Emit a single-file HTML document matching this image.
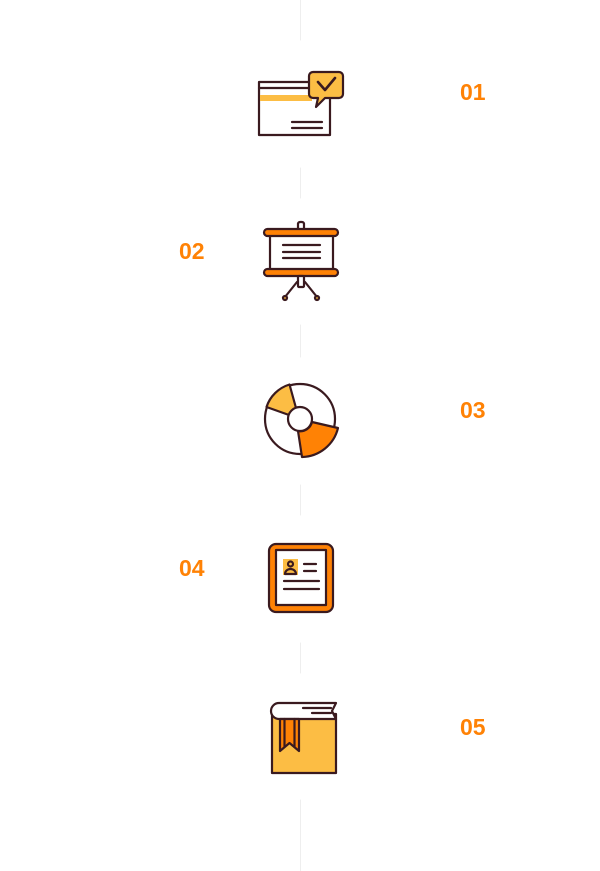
<!DOCTYPE html>
<html><head><style>
body{margin:0;background:#fff;width:600px;height:871px;overflow:hidden;position:relative;font-family:"Liberation Sans",sans-serif}
.n{position:absolute;color:#ff8205;font-weight:bold;font-size:23px;line-height:22px}
</style></head><body>
<div class="n" style="left:460px;top:81px">01</div>
<div class="n" style="left:179px;top:240px">02</div>
<div class="n" style="left:460px;top:399px">03</div>
<div class="n" style="left:179px;top:557px">04</div>
<div class="n" style="left:460px;top:716px">05</div>
<svg width="600" height="871" style="position:absolute;left:0;top:0" fill="none" stroke="#3a1a1f" stroke-width="2.2" stroke-linejoin="round" stroke-linecap="round">
<g stroke="#eee" stroke-width="1">
<line x1="300.5" y1="0" x2="300.5" y2="40"/><line x1="300.5" y1="168" x2="300.5" y2="198"/>
<line x1="300.5" y1="325" x2="300.5" y2="357"/><line x1="300.5" y1="485" x2="300.5" y2="515"/>
<line x1="300.5" y1="643" x2="300.5" y2="673"/><line x1="300.5" y1="800" x2="300.5" y2="871"/>
</g>
<!-- 1 -->
<rect x="259" y="82" width="71" height="53" fill="#fff"/>
<line x1="259" y1="88" x2="310" y2="88"/>
<rect x="260" y="95" width="52" height="6" fill="#fcbd44" stroke="none"/>
<line x1="292" y1="122" x2="322" y2="122"/><line x1="292" y1="128" x2="322" y2="128"/>
<path d="M313 72h26a4 4 0 0 1 4 4v18a4 4 0 0 1-4 4h-14l-9 9 2-9h-5a4 4 0 0 1-4-4v-18a4 4 0 0 1 4-4z" fill="#fcbd44"/>
<path d="M318 82l7 8 10-12" stroke-width="2.6"/>
<!-- 2 -->
<rect x="298" y="222" width="6" height="9" rx="2" fill="#fff"/>
<rect x="270" y="232" width="63" height="39" fill="#fff"/>
<line x1="283" y1="245" x2="320" y2="245"/><line x1="283" y1="252" x2="320" y2="252"/><line x1="283" y1="258" x2="320" y2="258"/>
<rect x="264" y="229" width="74" height="7" rx="3.5" fill="#ff8205"/>
<rect x="264" y="269" width="74" height="7" rx="3.5" fill="#ff8205"/>
<rect x="298" y="276" width="6" height="11" rx="1" fill="#fff"/>
<line x1="297" y1="282" x2="285" y2="297"/><line x1="305" y1="282" x2="317" y2="297"/>
<circle cx="285" cy="298" r="2" fill="#fcbd44"/><circle cx="317" cy="298" r="2" fill="#fcbd44"/>
<!-- 3 -->
<circle cx="300" cy="419" r="35" fill="#fff"/>
<path d="M289.5 384.5L296 408A12 12 0 0 0 289 415L266.5 407A35 35 0 0 1 289.5 384.5z" fill="#fcbd44"/>
<path d="M312 422L338 428A38 38 0 0 1 302 457L298 431A12 12 0 0 0 312 422z" fill="#ff8205"/>
<circle cx="300" cy="419" r="12" fill="#fff"/>
<!-- 4 -->
<rect x="269" y="544" width="64" height="68" rx="7" fill="#ff8205"/>
<rect x="276" y="550" width="50" height="55" fill="#fff"/>
<rect x="283" y="559" width="15" height="16" fill="#fcbd44" stroke="none"/>
<circle cx="290.5" cy="564" r="2.5"/><path d="M285 574a5.5 5 0 0 1 11 0z"/>
<line x1="304" y1="564" x2="316" y2="564"/><line x1="304" y1="571" x2="316" y2="571"/>
<line x1="284" y1="581" x2="319" y2="581"/><line x1="284" y1="589" x2="319" y2="589"/>
<!-- 5 -->
<rect x="272" y="714" width="64" height="59" fill="#fcbd44"/>
<path d="M279 703h57l-4 8 4 8h-57a8 8 0 0 1 0-16z" fill="#fff"/>
<line x1="303" y1="708" x2="331" y2="708"/><line x1="312" y1="713" x2="331" y2="713"/>
<path d="M280 719v32l9.5-8 9.5 8v-32z" fill="#ff8205"/>
<line x1="284.5" y1="719" x2="284.5" y2="747"/><line x1="294.5" y1="719" x2="294.5" y2="747"/>
</svg>
</body></html>
